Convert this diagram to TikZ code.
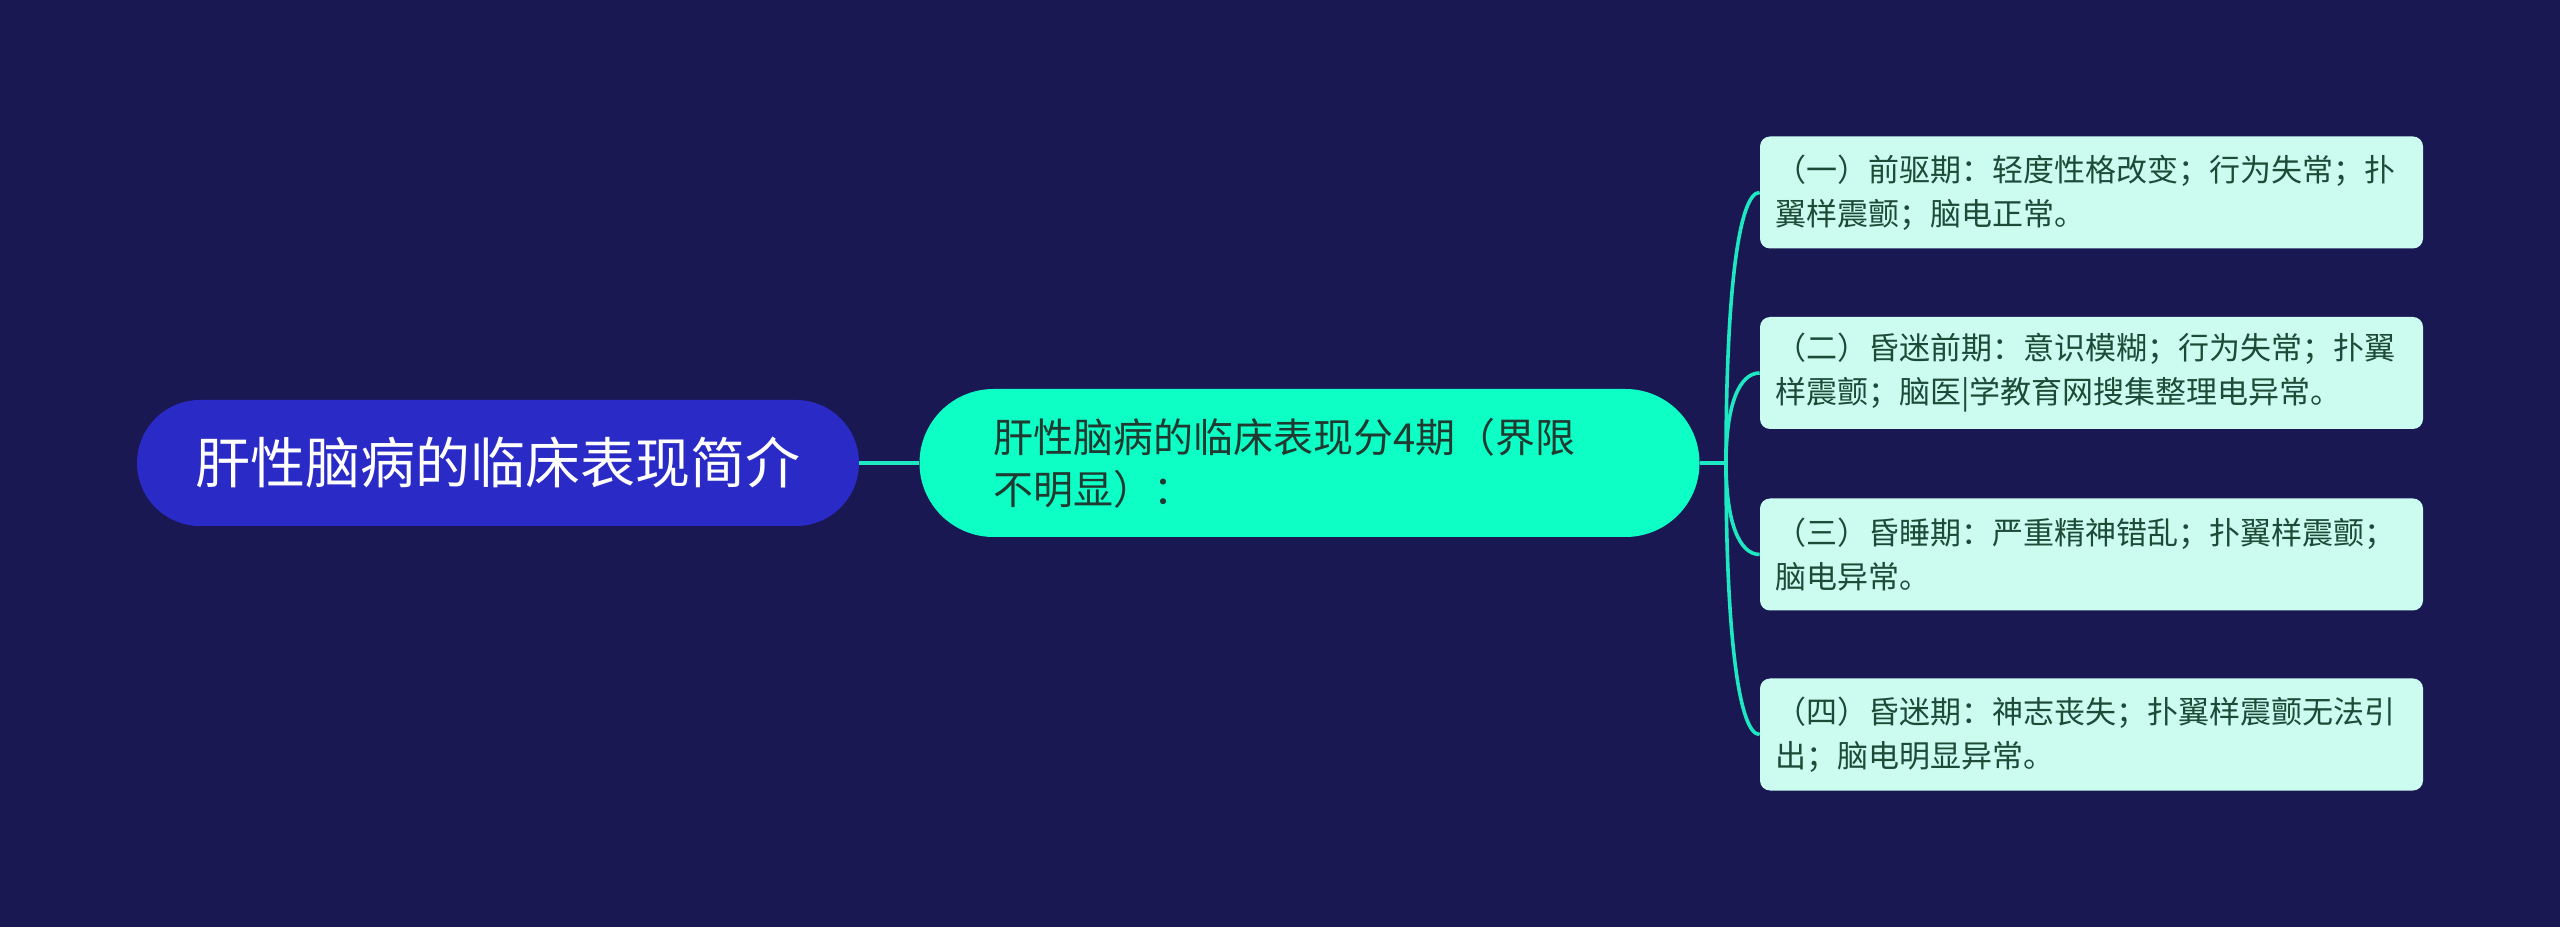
\documentclass[tikz,border=0pt]{standalone}
\usepackage{fontspec}
\setmainfont{Noto Sans CJK SC}
\usetikzlibrary{calc}
\definecolor{bgnavy}{HTML}{1A1852}
\definecolor{rootblue}{HTML}{2A2AC6}
\definecolor{topicaqua}{HTML}{0DFFC6}
\definecolor{leafmint}{HTML}{CCFCF0}
\definecolor{leafink}{HTML}{1E4A38}
\definecolor{topicink}{HTML}{1F3A30}
\definecolor{linkaqua}{HTML}{1EE8C2}
\tikzset{
  root/.style={
    rectangle,
    rounded corners=31.5pt,
    minimum width=361pt,
    minimum height=63pt,
    inner sep=0pt,
    fill=rootblue,
    text=white,
    font=\fontsize{27.5}{33}\selectfont
  },
  topic/.style={
    rectangle,
    rounded corners=37pt,
    minimum height=74pt,
    text width=316pt,
    inner xsep=37pt,
    align=left,
    fill=topicaqua,
    text=topicink,
    font=\fontsize{20}{26}\selectfont
  },
  leaf/.style={
    rectangle,
    rounded corners=5pt,
    minimum height=56pt,
    text width=316pt,
    inner xsep=7.75pt,
    align=left,
    fill=leafmint,
    text=leafink,
    font=\fontsize{15.5}{22}\selectfont
  },
  link/.style={draw=linkaqua, line width=1.8pt}
}

\begin{document}
\begin{tikzpicture}
  \fill[bgnavy] (0,0) rectangle (1280pt,463.5pt);
  \useasboundingbox (0,0) rectangle (1280pt,463.5pt);
  \node (n0) [root] at (249pt,232pt) {肝性脑病的临床表现简介};
  \node (n1) [topic] at (654.75pt,232pt) {肝性脑病的临床表现分4期（界限\\不明显）：};
  \node (l1) [leaf] at (1045.75pt,367.25pt) {（一）前驱期：轻度性格改变；行为失常；扑\\翼样震颤；脑电正常。};
  \node (l2) [leaf] at (1045.75pt,277pt) {（二）昏迷前期：意识模糊；行为失常；扑翼\\样震颤；脑医|学教育网搜集整理电异常。};
  \node (l3) [leaf] at (1045.75pt,186.25pt) {（三）昏睡期：严重精神错乱；扑翼样震颤；\\脑电异常。};
  \node (l4) [leaf] at (1045.75pt,96.25pt) {（四）昏迷期：神志丧失；扑翼样震颤无法引\\出；脑电明显异常。};
  \coordinate (bp) at (863pt,232pt);
  \draw[link] (n0.east) -- (n1.west);
  \draw[link] (n1.east) -- (bp);
  \foreach \i in {1,...,4}
    \draw[link] (bp) .. controls ($(bp |- l\i.west)!0.35!(bp)$) and ($(bp |- l\i.west)!0.4!(l\i.west)$) .. (l\i.west);
\end{tikzpicture}
\end{document}
